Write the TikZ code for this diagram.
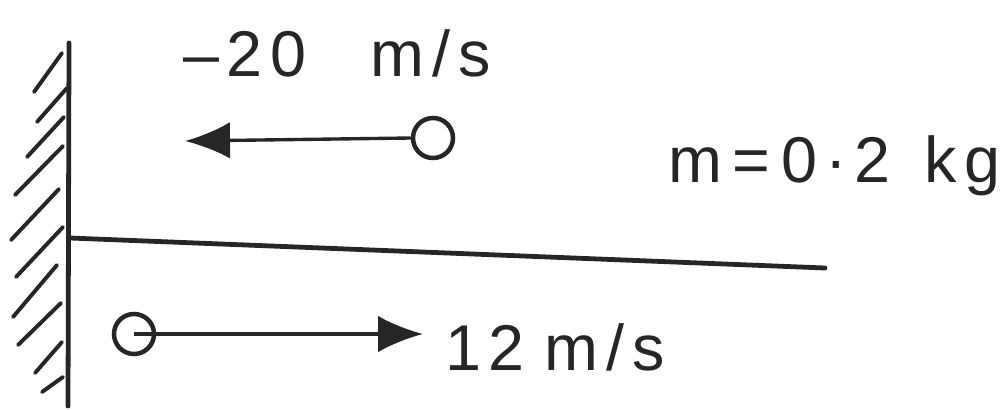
\documentclass[tikz,border=0pt]{standalone}
\usepackage{fontspec}
\newfontfamily\hand[LetterSpace=12]{Liberation Sans}
\usetikzlibrary{arrows.meta}
\begin{document}
\begin{tikzpicture}[x=0.025cm,y=-0.025cm,
  pen/.style={line width=3.4pt,line cap=round,line join=round,black!85},
  hatch/.style={line width=2.8pt,line cap=round,black!85},
  ball/.style={circle,draw=black!85,line width=3.2pt,minimum size=1cm,inner sep=0pt},
  vel/.style={line width=2.4pt,black!85,-{Latex[length=32pt,width=26pt]}},
  lbl/.style={font=\hand\fontsize{46}{54}\selectfont,inner sep=0pt,text=black!85}]
\useasboundingbox (0,0) rectangle (1003,409);
% wall
\coordinate (wallTop) at (69,43);
\coordinate (wallBot) at (68,406);
\coordinate (floorStart) at (70,238);
\coordinate (floorEnd) at (825,268);
\draw[pen] (wallTop) -- (wallBot);
\foreach \a/\b/\c/\d in {62/53/34/92, 67/88/37/122, 64/117/27/157, 63/146/15/195,
  59/189/11/240, 63/227/16/277, 57/265/13/317, 61/303/18/345, 62/342/35/373, 63/377/42/392}
  \draw[hatch] (\a,\b) -- (\c,\d);
% floor
\draw[pen] (floorStart) -- (floorEnd);
% top ball
\node[ball] (ballA) at (433,138) {};
\coordinate (tipA) at (185,141);
\draw[vel] (ballA.west) -- (tipA);
% bottom ball
\node[ball] (ballB) at (134,334) {};
\coordinate (tipB) at (423,334);
\draw[vel] (ballB.center) -- (tipB);
% labels
\node[lbl,anchor=base west] (vA) at (183,76) {–20\hspace{1.6cm}m/s};
\node[lbl,anchor=base west] (mass) at (668,182) {m\,=\,0·2\hspace{0.85cm}kg};
\node[lbl,anchor=base west] (vB) at (445,370) {12\hspace{0.5cm}m/s};
\end{tikzpicture}
\end{document}
